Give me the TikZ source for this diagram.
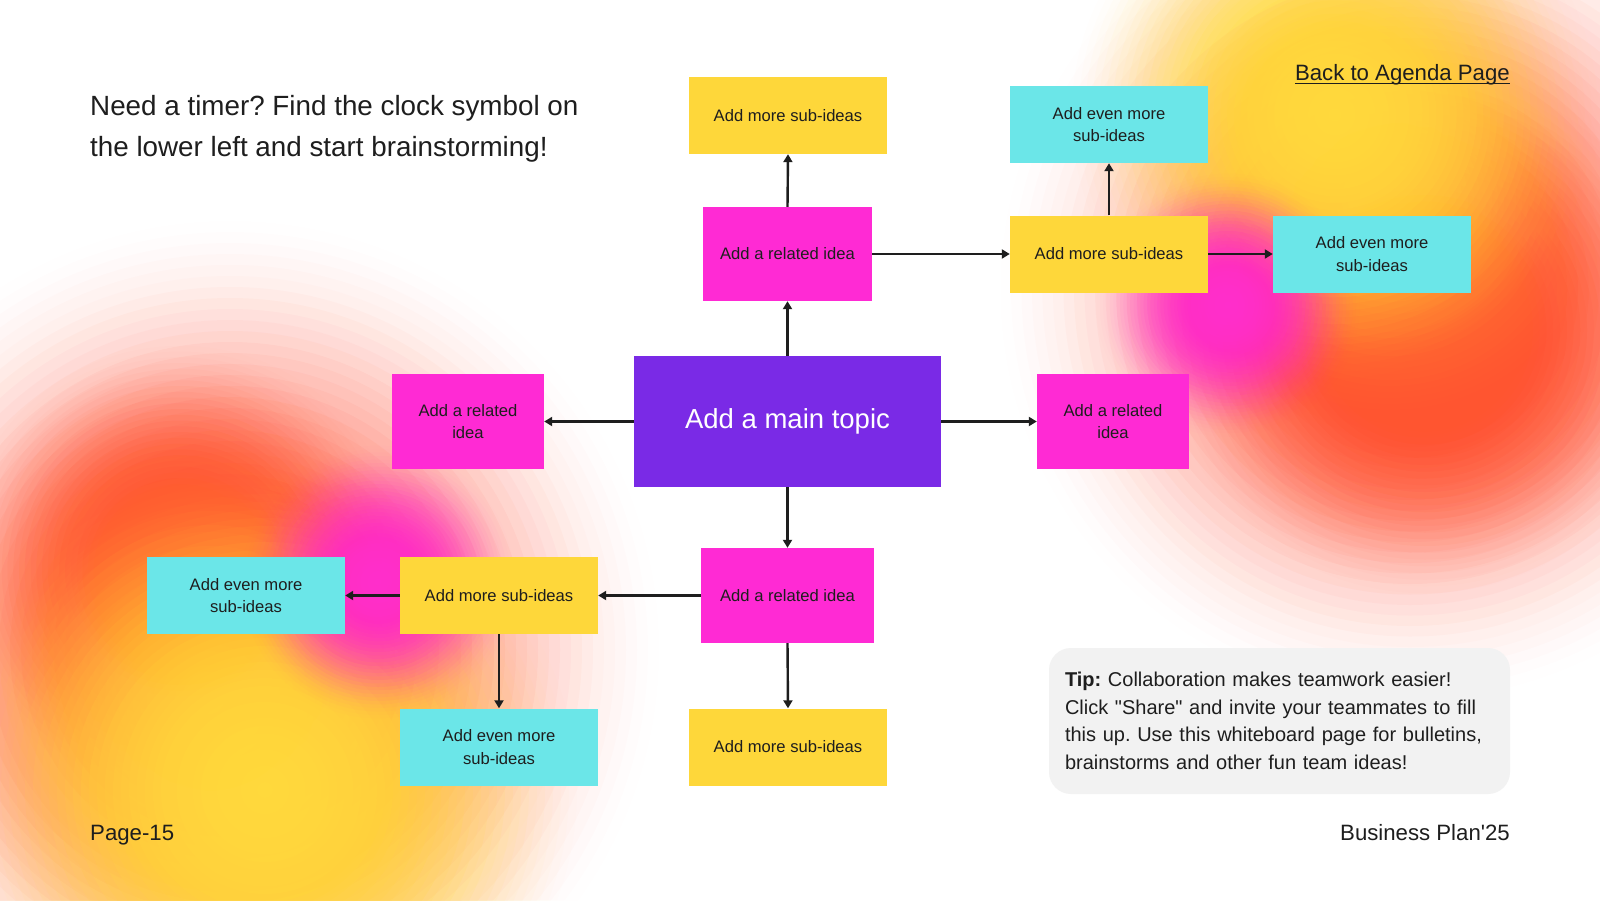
\documentclass[tikz,border=0pt]{standalone}
\usepackage{fontspec}
\setmainfont{Liberation Sans}[Ligatures=TeXOff]
\usetikzlibrary{arrows.meta}
\definecolor{cyel}{HTML}{FED73A}
\definecolor{cmag}{HTML}{FF2AD4}
\definecolor{ccyan}{HTML}{6BE6E8}
\definecolor{cpur}{HTML}{7A2AE6}
\definecolor{ink}{HTML}{1E1E1E}
\definecolor{tipgray}{HTML}{F2F2F2}
\definecolor{byel}{HTML}{FFDF3C}
\definecolor{bora}{HTML}{FFA03A}
\definecolor{bred}{HTML}{FF5530}
\definecolor{bsal}{HTML}{FF7660}
\definecolor{bmag}{HTML}{FF2ED2}
% soft blob: colour, x, y, radius, strength
\newcommand\softblob[5]{%
  \foreach \i in {1,...,39}{%
    \pgfmathsetmacro\blobop{1-exp(-#5*2*(1-\i/40)/40)}%
    \pgfmathsetmacro\blobr{#4/40*\i}%
    \fill[#1, opacity=\blobop] (#2,#3) circle (\blobr pt);%
  }}
\begin{document}
\frenchspacing
\begin{tikzpicture}[x=1pt,y=-1pt,
  every node/.style={inner sep=0pt, text=ink, align=center, font=\fontsize{16.6}{22.5}\selectfont},
  subbox/.style={fill=cyel, minimum width=198pt, minimum height=77pt},
  evenbox/.style={fill=ccyan, minimum width=198pt, minimum height=77pt},
  relbox/.style={fill=cmag, minimum height=95pt},
  mainbox/.style={fill=cpur, text=white, minimum width=307pt, minimum height=131pt, font=\fontsize{27.5}{33}\selectfont},
  link/.style={draw=ink, line width=2.4pt, -{Triangle[length=8pt,width=9pt]}},
  plain/.style={text=ink}
]
\useasboundingbox (0,0) rectangle (1600,900);
\fill[white] (0,0) rectangle (1600,900);
\begin{scope}
\clip (0,0) rectangle (1600,900);
% top-right blob
\softblob{bsal}{1410}{290}{420}{4}
\softblob{bred}{1425}{330}{270}{5}
\softblob{bora}{1390}{200}{240}{2.5}
\softblob{byel}{1335}{115}{270}{5}
\softblob{bmag}{1228}{305}{135}{5}
% bottom-left blob
\softblob{bsal}{230}{650}{440}{4}
\softblob{bred}{180}{570}{230}{5}
\softblob{bora}{210}{700}{280}{3}
\softblob{byel}{265}{790}{320}{5}
\softblob{bmag}{378}{582}{140}{5}
\end{scope}

\node[plain, anchor=north west, align=left, font=\fontsize{27.8}{41}\selectfont] (head) at (90,95.5)
  {Need a timer? Find the clock symbol on\\the lower left and start brainstorming!};
\node[plain, anchor=base east, font=\fontsize{22.2}{26}\selectfont] (back) at (1510,80.5) {Back to Agenda Page};
\draw[ink, line width=1.4pt] ([yshift=-3pt]back.base west) -- ([yshift=-3pt]back.base east);

\node[mainbox] (m) at (787.5,421.5) {Add a main topic};
\node[relbox, minimum width=169pt, minimum height=94pt] (r1) at (787.5,254) {Add a related idea};
\node[subbox] (t1) at (788,115.5) {Add more sub-ideas};
\node[relbox, minimum width=152pt] (rl) at (468,421.5) {Add a related\\idea};
\node[relbox, minimum width=152pt] (rr) at (1113,421.5) {Add a related\\idea};
\node[subbox] (s1) at (1109,254) {Add more sub-ideas};
\node[evenbox] (e1) at (1109,124.5) {Add even more\\sub-ideas};
\node[evenbox] (e2) at (1372,254) {Add even more\\sub-ideas};
\node[relbox, minimum width=173pt] (r3) at (787.5,595.5) {Add a related idea};
\node[subbox] (s2) at (788,747) {Add more sub-ideas};
\node[subbox] (s3) at (499,595.5) {Add more sub-ideas};
\node[evenbox] (e3) at (246,595.5) {Add even more\\sub-ideas};
\node[evenbox] (e4) at (499,747) {Add even more\\sub-ideas};

\draw[link] (m.north) -- (r1.south);
\draw[link] (r1.north) -- (t1.south);
\draw[link] (m.west) -- (rl.east);
\draw[link] (m.east) -- (rr.west);
\draw[link] (m.south) -- (r3.north);
\draw[link] (r1.east) -- (s1.west);
\draw[link] (s1.north) -- (e1.south);
\draw[link] (s1.east) -- (e2.west);
\draw[link] (r3.west) -- (s3.east);
\draw[link] (s3.west) -- (e3.east);
\draw[link] (s3.south) -- (e4.north);
\draw[link] (r3.south) -- (s2.north);

\node[fill=tipgray, rounded corners=22pt, minimum width=461pt, minimum height=146pt,
      text width=429pt, inner xsep=16pt, align=left, font=\fontsize{20}{27.5}\selectfont] (tip) at (1279.5,721)
  {\textbf{Tip:} Collaboration makes teamwork easier!\\Click "Share" and invite your teammates to fill\\this up. Use this whiteboard page for bulletins,\\brainstorms and other fun team ideas!};

\node[plain, anchor=base west, font=\fontsize{22.2}{26}\selectfont] (page) at (90,840) {Page-15};
\node[plain, anchor=base east, font=\fontsize{22.2}{26}\selectfont] (biz) at (1510,840) {Business Plan'25};
\end{tikzpicture}
\end{document}
